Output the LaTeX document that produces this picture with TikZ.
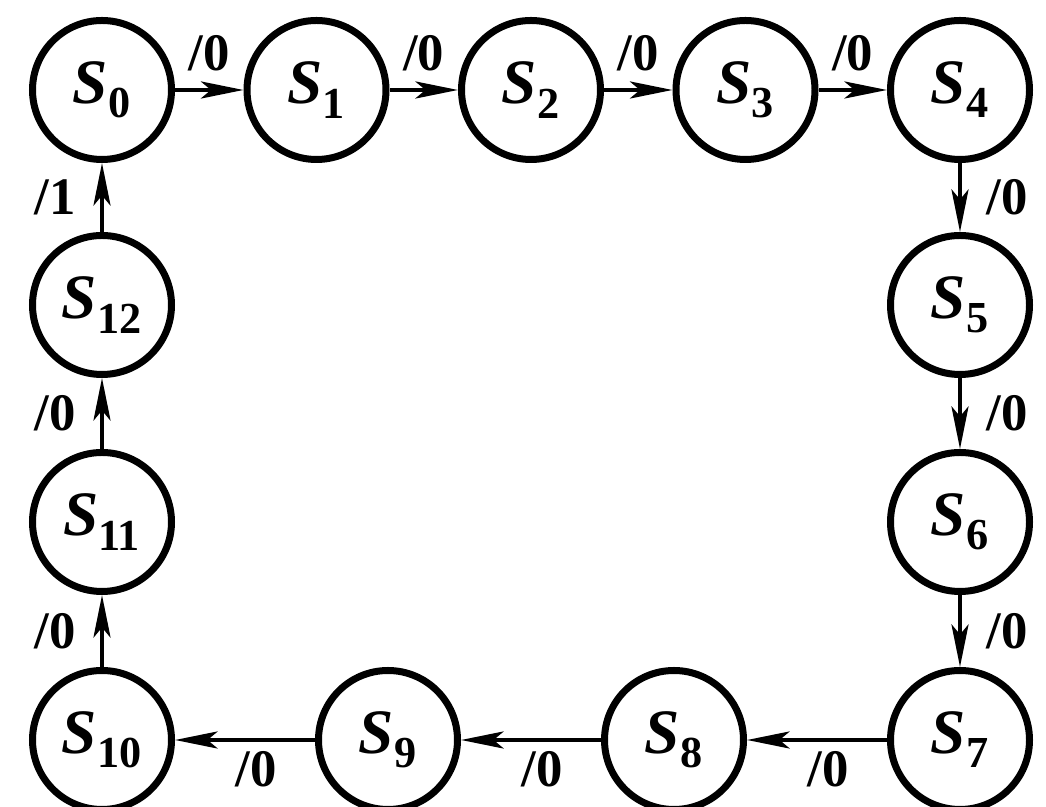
\documentclass[tikz,border=0pt]{standalone}
\usepackage{fontspec}
\setmainfont{Liberation Serif}
\usetikzlibrary{positioning,arrows.meta}
\newcommand{\stname}[1]{\textbf{\textit{S}}\textsubscript{\textbf{#1}}}

\begin{document}
\begin{tikzpicture}[
    state/.style={draw, circle, line width=0.14cm, minimum size=2.78cm, inner sep=0pt, font=\fontsize{36}{38}\selectfont},
    lab/.style={font=\fontsize{30}{32}\selectfont\bfseries, inner sep=1pt},
    arr/.style={-{Stealth[length=8.5mm, width=3.4mm, inset=2mm]}, line width=0.09cm}]
  \useasboundingbox (0,0) rectangle (20.92,16.14);
  % top row
  \node[state] (s0) at (2.04,14.34) {\stname{0}};
  \node[state] (s1) at (6.33,14.34) {\stname{1}};
  \node[state] (s2) at (10.62,14.34) {\stname{2}};
  \node[state] (s3) at (14.91,14.34) {\stname{3}};
  \node[state] (s4) at (19.2,14.34) {\stname{4}};
  % right column
  \node[state] (s5) at (19.2,10.04) {\stname{5}};
  \node[state] (s6) at (19.2,5.70) {\stname{6}};
  \node[state] (s7) at (19.2,1.34) {\stname{7}};
  % bottom row
  \node[state] (s8) at (13.48,1.34) {\stname{8}};
  \node[state] (s9) at (7.76,1.34) {\stname{9}};
  \node[state] (s10) at (2.04,1.34) {\stname{10}};
  % left column
  \node[state] (s11) at (2.04,5.70) {\stname{11}};
  \node[state] (s12) at (2.04,10.04) {\stname{12}};
  % transitions
  \draw[arr] (s0) -- node[lab, above=3mm]{/0} (s1);
  \draw[arr] (s1) -- node[lab, above=3mm]{/0} (s2);
  \draw[arr] (s2) -- node[lab, above=3mm]{/0} (s3);
  \draw[arr] (s3) -- node[lab, above=3mm]{/0} (s4);
  \draw[arr] (s4) -- node[lab, right=4.5mm]{/0} (s5);
  \draw[arr] (s5) -- node[lab, right=4.5mm]{/0} (s6);
  \draw[arr] (s6) -- node[lab, right=4.5mm]{/0} (s7);
  \draw[arr] (s7) -- node[lab, below=1.5mm, pos=0.42]{/0} (s8);
  \draw[arr] (s8) -- node[lab, below=1.5mm, pos=0.42]{/0} (s9);
  \draw[arr] (s9) -- node[lab, below=1.5mm, pos=0.42]{/0} (s10);
  \draw[arr] (s10) -- node[lab, left=4.5mm]{/0} (s11);
  \draw[arr] (s11) -- node[lab, left=4.5mm]{/0} (s12);
  \draw[arr] (s12) -- node[lab, left=4.5mm]{/1} (s0);
\end{tikzpicture}
\end{document}
